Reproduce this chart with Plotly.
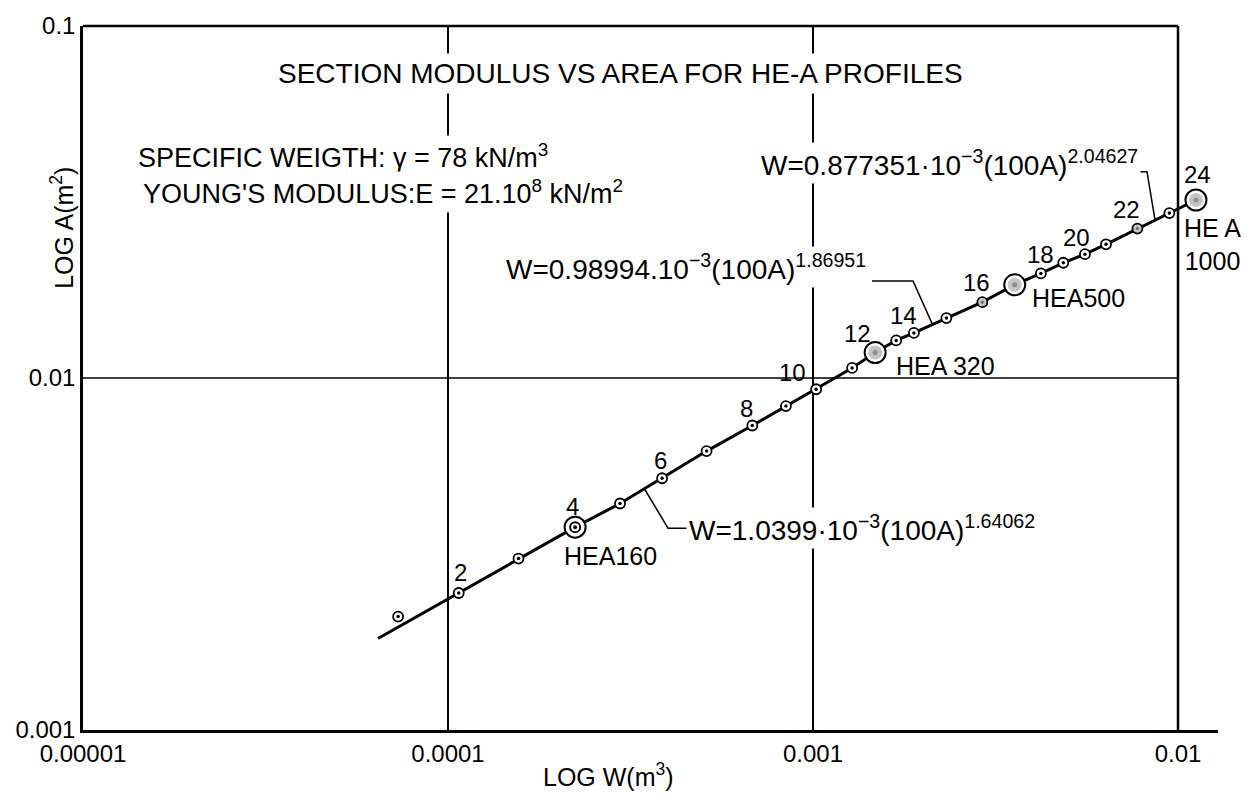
import numpy as np
import plotly.graph_objects as go

# ---------------- data ----------------
profiles = ["HEA100", "HEA120", "HEA140", "HEA160", "HEA180", "HEA200", "HEA220", "HEA240",
            "HEA260", "HEA280", "HEA300", "HEA320", "HEA340", "HEA360", "HEA400", "HEA450",
            "HEA500", "HEA550", "HEA600", "HEA650", "HEA700", "HEA800", "HEA900", "HEA1000"]
section_modulus_w = [7.3e-5, 1.07e-4, 1.56e-4, 2.23e-4, 2.96e-4, 3.86e-4, 5.11e-4, 6.82e-4,
                     8.43e-4, 1.02e-3, 1.28e-3, 1.48e-3, 1.69e-3, 1.89e-3, 2.32e-3, 2.91e-3,
                     3.57e-3, 4.21e-3, 4.85e-3, 5.56e-3, 6.35e-3, 7.74e-3, 9.47e-3, 1.12e-2]
area_a = [2.10e-3, 2.45e-3, 3.07e-3, 3.77e-3, 4.40e-3, 5.19e-3, 6.20e-3, 7.33e-3,
          8.32e-3, 9.29e-3, 1.068e-2, 1.181e-2, 1.279e-2, 1.343e-2, 1.480e-2, 1.642e-2,
          1.840e-2, 1.982e-2, 2.125e-2, 2.248e-2, 2.398e-2, 2.658e-2, 2.941e-2, 3.204e-2]
fit_start_w = 6.43e-5
fit_start_a = 1.82e-3
numbered_profiles = ["HEA120", "HEA160", "HEA200", "HEA240", "HEA280", "HEA320",
                     "HEA360", "HEA450", "HEA550", "HEA650", "HEA800", "HEA1000"]
number_labels = ["2", "4", "6", "8", "10", "12", "14", "16", "18", "20", "22", "24"]
highlighted = ["HEA160", "HEA320", "HEA500", "HEA1000"]
highlight_labels = ["HEA160", "HEA 320", "HEA500", "HE A<br>1000"]
gray_small = ["HEA450", "HEA800"]
x_tick_vals = [1e-5, 1e-4, 1e-3, 1e-2]
x_tick_text = ["0.00001", "0.0001", "0.001", "0.01"]
y_tick_vals = [1e-3, 1e-2, 1e-1]
y_tick_text = ["0.001", "0.01", "0.1"]
formulas = ["W=0.877351·10<sup>−3</sup>(100A)<sup>2.04627</sup>",
            "W=0.98994.10<sup>−3</sup>(100A)<sup>1.86951</sup>",
            "W=1.0399·10<sup>−3</sup>(100A)<sup>1.64062</sup>"]

# ---------------- layout geometry ----------------
FIG_W, FIG_H = 1252, 794
L, R, T, B = 83, 1218, 15, 730          # plot-area pixels
DECADE = 365.0
x_range = [-5.0, -5.0 + (R - L) / DECADE]
y_range = [-3.0, -1.0]
FONT = "Liberation Sans, Arial, DejaVu Sans, sans-serif"


def px(x):
    return (x - L) / (R - L)


def py(y):
    return (B - y) / (B - T)


def xpaper_from_value(v):
    return (np.log10(v) - x_range[0]) / (x_range[1] - x_range[0])


def ypaper_from_value(v):
    return (np.log10(v) - y_range[0]) / (y_range[1] - y_range[0])


idx = {p: i for i, p in enumerate(profiles)}
W = np.array(section_modulus_w)
A = np.array(area_a)

fig = go.Figure()

# fitted line
line_w = [fit_start_w] + section_modulus_w[1:]
line_a = [fit_start_a] + area_a[1:]
fig.add_trace(go.Scatter(x=line_w, y=line_a, mode="lines",
                         line=dict(color="black", width=3), hoverinfo="skip",
                         cliponaxis=False, showlegend=False))

# small open markers
small_colors = ["#c8c8c8" if p in gray_small else "white" for p in profiles]
fig.add_trace(go.Scatter(x=W, y=A, mode="markers", cliponaxis=False, showlegend=False,
                         marker=dict(size=10, color=small_colors,
                                     line=dict(color="black", width=1.8))))
dot_colors = ["#777777" if p in gray_small else "black" for p in profiles]
fig.add_trace(go.Scatter(x=W, y=A, mode="markers", cliponaxis=False, showlegend=False,
                         marker=dict(size=3.5, color=dot_colors, line=dict(width=0))))

# highlighted profiles
hi = [idx[p] for p in highlighted]
fig.add_trace(go.Scatter(x=W[hi], y=A[hi], mode="markers", cliponaxis=False, showlegend=False,
                         marker=dict(size=21, color="white", line=dict(color="black", width=2))))
ring = [idx["HEA160"]]
fig.add_trace(go.Scatter(x=W[ring], y=A[ring], mode="markers", cliponaxis=False, showlegend=False,
                         marker=dict(size=10, color="white", line=dict(color="black", width=2))))
fig.add_trace(go.Scatter(x=W[ring], y=A[ring], mode="markers", cliponaxis=False, showlegend=False,
                         marker=dict(size=4, color="black", line=dict(width=0))))
grays = [idx[p] for p in highlighted if p != "HEA160"]
fig.add_trace(go.Scatter(x=W[grays], y=A[grays], mode="markers", cliponaxis=False, showlegend=False,
                         marker=dict(size=14, color="#c4c4c4", line=dict(width=0))))
fig.add_trace(go.Scatter(x=W[grays], y=A[grays], mode="markers", cliponaxis=False, showlegend=False,
                         marker=dict(size=5, color="#8c8c8c", line=dict(width=0))))

annotations = []
# number labels next to the points
num_offsets = [(2, 21), (-3, 21), (-2, 18), (-6, 17), (-24, 17), (-18, 19),
               (-10, 17), (-6, 20), (0, 19), (-8, 17), (-11, 19), (2, 26)]
for p, t, (dx, dy) in zip(numbered_profiles, number_labels, num_offsets):
    i = idx[p]
    annotations.append(dict(x=np.log10(W[i]), y=np.log10(A[i]), xref="x", yref="y", text=t,
                            showarrow=False, xshift=dx, yshift=dy, xanchor="center",
                            yanchor="middle", font=dict(family=FONT, size=24, color="black")))
# profile name labels
hl_offsets = [(35, -29), (70, -13), (64, -13), (17, -44)]
for p, t, (dx, dy) in zip(highlighted, highlight_labels, hl_offsets):
    i = idx[p]
    annotations.append(dict(x=np.log10(W[i]), y=np.log10(A[i]), xref="x", yref="y", text=t,
                            showarrow=False, xshift=dx, yshift=dy, xanchor="center",
                            yanchor="middle", font=dict(family=FONT, size=25, color="black")))

# texts
annotations += [
    dict(x=px(620), y=py(63), xref="paper", yref="paper", text="SECTION MODULUS VS AREA FOR HE-A PROFILES",
         showarrow=False, xanchor="center", yanchor="middle", bgcolor="white", borderpad=4,
         font=dict(family=FONT, size=28, color="black")),
    dict(x=px(134), y=py(147), xref="paper", yref="paper",
         text="SPECIFIC WEIGTH: γ = 78 kN/m<sup>3</sup>",
         showarrow=False, xanchor="left", yanchor="middle", bgcolor="white", borderpad=3,
         font=dict(family=FONT, size=27, color="black")),
    dict(x=px(139), y=py(184), xref="paper", yref="paper",
         text="YOUNG'S MODULUS:E = 21.10<sup>8</sup> kN/m<sup>2</sup>",
         showarrow=False, xanchor="left", yanchor="middle", bgcolor="white", borderpad=3,
         font=dict(family=FONT, size=27, color="black")),
    dict(x=px(758), y=py(175), xref="paper", yref="paper", text=formulas[0],
         showarrow=False, xanchor="left", yanchor="bottom", bgcolor="white", borderpad=2,
         font=dict(family=FONT, size=28, color="black")),
    dict(x=px(503), y=py(281), xref="paper", yref="paper", text=formulas[1],
         showarrow=False, xanchor="left", yanchor="bottom", bgcolor="white", borderpad=2,
         font=dict(family=FONT, size=28, color="black")),
    dict(x=px(686), y=py(546), xref="paper", yref="paper", text=formulas[2],
         showarrow=False, xanchor="left", yanchor="bottom", bgcolor="white", borderpad=2,
         font=dict(family=FONT, size=28, color="black")),
    dict(x=px(608), y=py(776), xref="paper", yref="paper", text="LOG W(m<sup>3</sup>)",
         showarrow=False, xanchor="center", yanchor="middle",
         font=dict(family=FONT, size=25, color="black")),
    dict(x=px(62), y=py(220), xref="paper", yref="paper", text="LOG A(m<sup>2</sup>)",
         showarrow=False, xanchor="center", yanchor="middle", textangle=-90,
         font=dict(family=FONT, size=25, color="black")),
]

# frame (top / right) and horizontal grid line, derived from the axis scales
x_right = xpaper_from_value(1e-2)
shapes = [
    dict(type="line", xref="paper", yref="paper", x0=0, x1=x_right,
         y0=ypaper_from_value(1e-2), y1=ypaper_from_value(1e-2),
         line=dict(color="black", width=1.6), layer="below"),
    dict(type="line", xref="paper", yref="paper", x0=0, x1=x_right,
         y0=ypaper_from_value(1e-1), y1=ypaper_from_value(1e-1),
         line=dict(color="black", width=2.5), layer="below"),
    dict(type="line", xref="paper", yref="paper", x0=x_right, x1=x_right,
         y0=0, y1=1, line=dict(color="black", width=2.5), layer="below"),
]
# leader lines of the formulas
leaders = [[(1107, 163), (1147, 163), (1155, 212)],
           [(872, 274), (913, 274), (932, 317)],
           [(645, 486), (668, 525), (687, 525)]]
for pts in leaders:
    path = "M " + " L ".join(f"{px(a):.5f},{py(b):.5f}" for a, b in pts)
    shapes.append(dict(type="path", xref="paper", yref="paper", path=path,
                       line=dict(color="black", width=1.5), layer="above"))

fig.update_layout(
    width=FIG_W, height=FIG_H,
    margin=dict(l=L, r=FIG_W - R, t=T, b=FIG_H - B, pad=0),
    paper_bgcolor="white", plot_bgcolor="white",
    showlegend=False,
    annotations=annotations, shapes=shapes,
    font=dict(family=FONT, size=24, color="black"),
)
fig.update_xaxes(type="log", range=x_range, tickvals=x_tick_vals, ticktext=x_tick_text,
                 showgrid=True, gridcolor="black", gridwidth=1.6, zeroline=False,
                 showline=True, linecolor="black", linewidth=2.5, mirror=False,
                 ticks="", tickfont=dict(family=FONT, size=24, color="black"))
fig.update_yaxes(type="log", range=y_range, tickvals=y_tick_vals, ticktext=y_tick_text,
                 showgrid=False, zeroline=False,
                 showline=True, linecolor="black", linewidth=2.5, mirror=False,
                 ticks="", tickfont=dict(family=FONT, size=24, color="black"))

fig.write_html("out.html")
